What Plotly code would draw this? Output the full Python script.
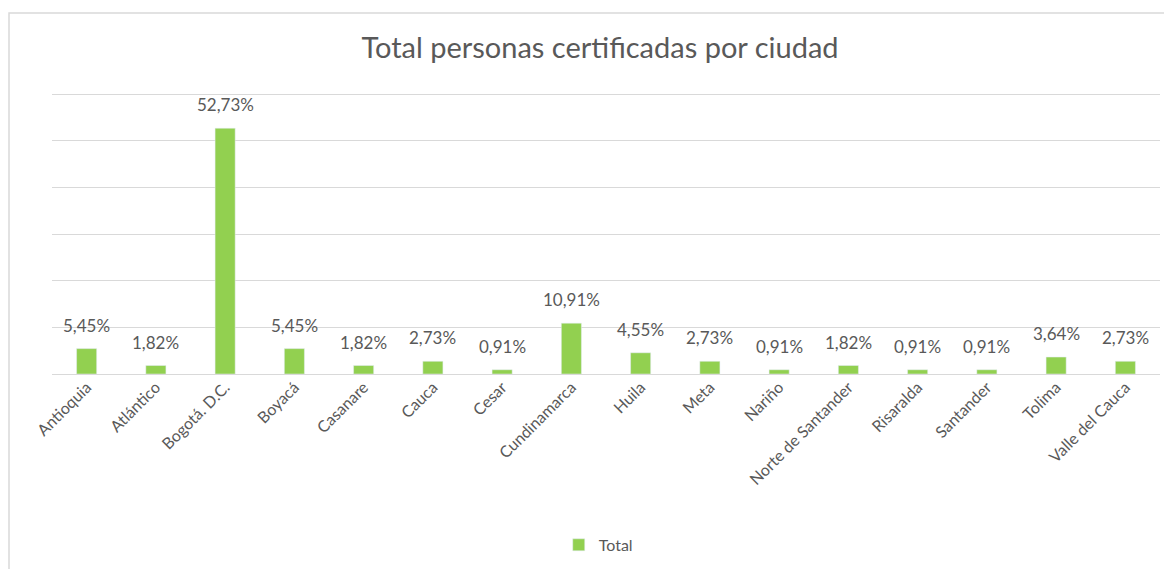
import plotly.graph_objects as go

ciudades = ["Antioquia", "Atlántico", "Bogotá. D.C.", "Boyacá", "Casanare", "Cauca", "Cesar",
            "Cundinamarca", "Huila", "Meta", "Nariño", "Norte de Santander", "Risaralda",
            "Santander", "Tolima", "Valle del Cauca"]
porcentajes = [5.45, 1.82, 52.73, 5.45, 1.82, 2.73, 0.91, 10.91, 4.55, 2.73, 0.91, 1.82, 0.91,
               0.91, 3.64, 2.73]
serie = "Total"
titulo = "Total personas certificadas por ciudad"

GRAY = "#595959"
GREEN = "#92D050"
FONT = "Lato"

fig = go.Figure()
fig.add_trace(go.Bar(x=ciudades, y=porcentajes, name=serie, marker_color=GREEN,
                     hoverinfo="x+y"))

annotations = []
for c, v in zip(ciudades, porcentajes):
    annotations.append(dict(x=c, y=v, xref="x", yref="y",
                            text=f"{v:.2f}%".replace(".", ","), showarrow=False,
                            yanchor="bottom", yshift=11,
                            font=dict(family=FONT, size=17, color=GRAY)))

fig.update_layout(
    width=1164, height=561,
    margin=dict(l=44, r=12, t=84, b=195, autoexpand=False),
    paper_bgcolor="white", plot_bgcolor="white",
    title=dict(text=titulo, x=0.5086, xanchor="center", y=0.929, yanchor="middle",
               font=dict(family=FONT, size=29, color=GRAY)),
    bargap=0.71,
    showlegend=True,
    legend=dict(orientation="h", x=0.493, xanchor="center", y=-0.606, yanchor="middle",
                font=dict(family=FONT, size=16, color=GRAY), itemwidth=30),
    annotations=annotations,
    shapes=[dict(type="rect", xref="paper", yref="paper", x0=-0.0388, x1=1.02,
                 y0=-0.75, y1=1.280, line=dict(color="#D9D9D9", width=1.5),
                 layer="below")],
)
fig.update_xaxes(tickangle=-45, tickfont=dict(family=FONT, size=16, color=GRAY),
                 showline=False, ticks="", showgrid=False, automargin=False)
fig.update_yaxes(range=[0, 60.5], tick0=0, dtick=10, showticklabels=False, showgrid=True,
                 gridcolor="#D9D9D9", gridwidth=1.2, zeroline=True,
                 zerolinecolor="#D9D9D9", zerolinewidth=1.2, ticks="", automargin=False)

fig.write_html("out.html")
